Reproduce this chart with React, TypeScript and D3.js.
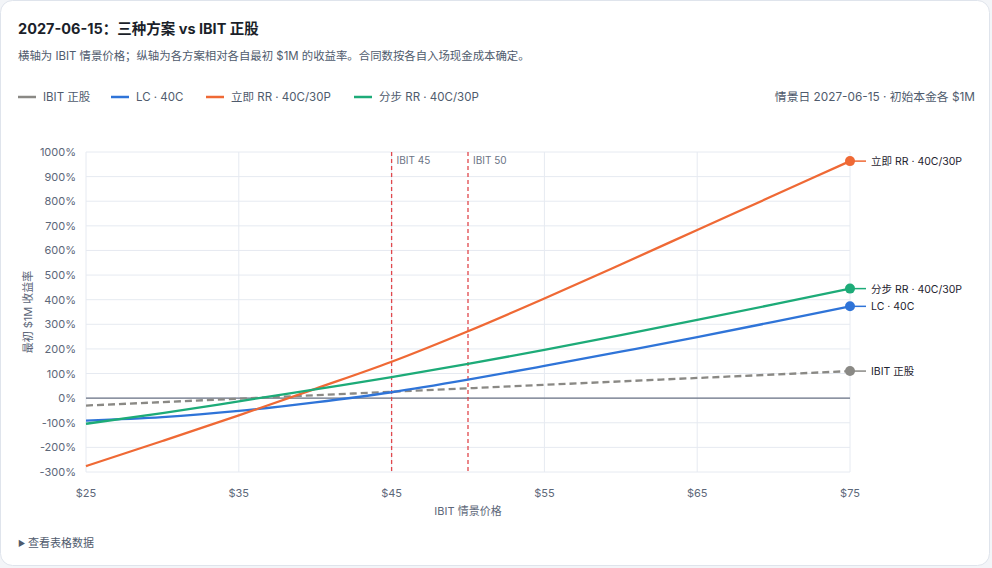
import React from "react";
import * as d3 from "d3";

const prices = [25, 30, 35, 40, 45, 50, 55, 60, 65, 70, 75];
const ibitStock = [-30, -16, -2, 12, 26, 40, 54, 68, 82, 96, 110];
const lc40 = [-91, -77, -52, -17, 24, 75, 131, 189, 248, 310, 373];
const rrNow = [-276, -174, -70, 38, 148, 272, 405, 543, 683, 823, 963];
const rrStep = [-104, -61, -13, 36, 85, 139, 196, 256, 318, 381, 445];
const xTicks = [25, 35, 45, 55, 65, 75];
const yTicks = [-300, -200, -100, 0, 100, 200, 300, 400, 500, 600, 700, 800, 900, 1000];
const markers = [45, 50];

const seriesList = [
  { name: "IBIT 正股", values: ibitStock, color: "#8a8985", dash: "7 4" },
  { name: "LC · 40C", values: lc40, color: "#2f74d8", dash: null },
  { name: "立即 RR · 40C/30P", values: rrNow, color: "#ef6935", dash: null },
  { name: "分步 RR · 40C/30P", values: rrStep, color: "#1dab78", dash: null },
];

const FONT = "Inter, 'Noto Sans CJK SC', 'DejaVu Sans', sans-serif";

export default function App() {
  const W = 992, H = 568;
  const m = { l: 86, r: 850, t: 152, b: 472 };
  const x = d3.scaleLinear().domain([25, 75]).range([m.l, m.r]);
  const y = d3.scaleLinear().domain([-300, 1000]).range([m.b, m.t]);
  const line = d3
    .line<number>()
    .x((_, i) => x(prices[i]))
    .y((v) => y(v))
    .curve(d3.curveMonotoneX);

  const legendX = [18, 111, 206, 354];
  const last = prices.length - 1;

  return (
    <div style={{ position: "absolute", left: 0, top: 0, width: W, height: H, background: "#f3f5f8" }}>
      <svg width={W} height={H} style={{ display: "block", fontFamily: FONT }}>
        <rect x={0.5} y={0.5} width={W - 3} height={H - 3} rx={12} fill="#fff" stroke="#dfe4ec" />
        <text x={18} y={34} fontSize={14.5} fontWeight={700} fill="#1b1f2a">
          2027-06-15：三种方案 vs IBIT 正股
        </text>
        <text x={18} y={60} fontSize={11.4} fill="#4f5b6d">
          横轴为 IBIT 情景价格；纵轴为各方案相对各自最初 $1M 的收益率。合同数按各自入场现金成本确定。
        </text>
        {seriesList.map((s, i) => (
          <g key={s.name}>
            <line x1={legendX[i]} x2={legendX[i] + 18} y1={97} y2={97} stroke={s.color} strokeWidth={2.5} />
            <text x={legendX[i] + 25} y={101} fontSize={11.5} fill="#4f5b6d">
              {s.name}
            </text>
          </g>
        ))}
        <text x={975} y={101} fontSize={11.8} fill="#4f5b6d" textAnchor="end">
          情景日 2027-06-15 · 初始本金各 $1M
        </text>

        {yTicks.map((t) => (
          <line key={"gy" + t} x1={m.l} x2={m.r} y1={y(t)} y2={y(t)} stroke="#e6eaf1" strokeWidth={1} />
        ))}
        {xTicks.map((t) => (
          <line key={"gx" + t} x1={x(t)} x2={x(t)} y1={m.t} y2={m.b} stroke="#e6eaf1" strokeWidth={1} />
        ))}
        <line x1={m.l} x2={m.r} y1={y(0)} y2={y(0)} stroke="#6b7385" strokeWidth={1.4} />

        {yTicks.map((t) => (
          <text key={"ty" + t} x={76} y={y(t) + 4} fontSize={11} fill="#5d6779" textAnchor="end">
            {t}%
          </text>
        ))}
        {xTicks.map((t) => (
          <text key={"tx" + t} x={x(t)} y={497} fontSize={11} fill="#5d6779" textAnchor="middle">
            ${t}
          </text>
        ))}
        <text x={x(50)} y={515} fontSize={11} fill="#5d6779" textAnchor="middle">
          IBIT 情景价格
        </text>
        <text
          transform={`translate(32, ${(m.t + m.b) / 2}) rotate(-90)`}
          fontSize={11}
          fill="#5d6779"
          textAnchor="middle"
        >
          最初 $1M 收益率
        </text>

        {markers.map((p) => (
          <g key={"mk" + p}>
            <line x1={x(p)} x2={x(p)} y1={m.t} y2={m.b} stroke="#e0474c" strokeWidth={1.3} strokeDasharray="4 3" />
            <text x={x(p) + 5} y={m.t + 12} fontSize={10} fill="#6b7385">
              IBIT {p}
            </text>
          </g>
        ))}

        {seriesList.map((s) => (
          <path
            key={"p" + s.name}
            d={line(s.values) || ""}
            fill="none"
            stroke={s.color}
            strokeWidth={2.3}
            strokeDasharray={s.dash || undefined}
          />
        ))}
        {seriesList.map((s) => {
          const cx = x(prices[last]);
          const cy = y(s.values[last]);
          return (
            <g key={"e" + s.name}>
              <line x1={cx} x2={cx + 16} y1={cy} y2={cy} stroke={s.color} strokeWidth={1.5} />
              <circle cx={cx} cy={cy} r={5} fill={s.color} />
              <text x={cx + 21} y={cy + 4} fontSize={10.5} fill="#1f2430">
                {s.name}
              </text>
            </g>
          );
        })}

        <text x={18} y={546} fontSize={8} fill="#4f5b6d">▶</text>
        <text x={28} y={547} fontSize={11} fill="#4f5b6d">
          查看表格数据
        </text>
      </svg>
    </div>
  );
}
